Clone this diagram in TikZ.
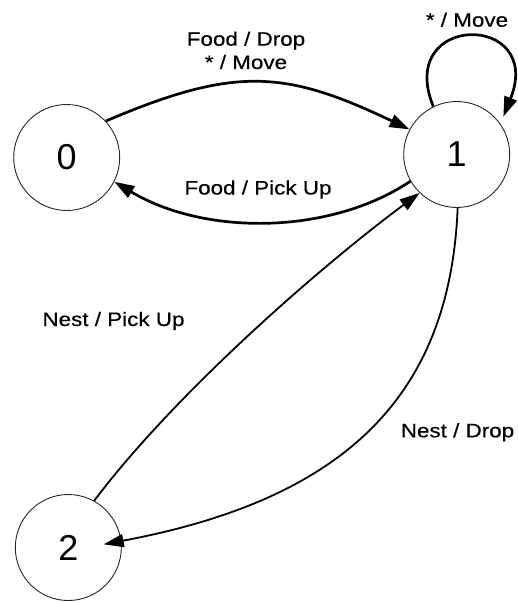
\documentclass[tikz,border=0pt]{standalone}
\usepackage{fontspec}
\setmainfont{Liberation Sans}
\newfontfamily\lblfont[FakeStretch=1.15,FakeBold=0.4]{Liberation Sans}
\usetikzlibrary{arrows.meta}
\tikzset{
  state/.style={circle, draw=black!85, line width=0.9pt, minimum size=106pt,
    inner sep=0pt, font=\fontsize{36}{36}\selectfont},
  lbl/.style={anchor=base, inner sep=0pt, font=\lblfont\fontsize{19.5}{23}\selectfont},
  tip/.style={-{Triangle[length=20pt,width=13pt]}},
  heavy/.style={tip, line width=2.7pt},
  light/.style={tip, line width=1.8pt},
}
\begin{document}
\begin{tikzpicture}[x=1pt,y=-1pt]
\useasboundingbox (0,0) rectangle (517,602);

% states
\node[state] (n0) at (66.7,157.5) {0};
\node[state] (n1) at (456.7,154.5) {1};
\node[state] (n2) at (68.3,547.5) {2};

% transitions between 0 and 1
\draw[heavy] (n0.43) .. controls (235,66) and (285,70) .. (n1.152);
\draw[heavy] (n1.210) .. controls (330,235) and (205,236) .. (n0.-27);

% self loop on 1
\draw[heavy, shorten >=7.7pt] (n1.116) .. controls (395,12) and (545,12) .. (n1.35);

% transitions between 1 and 2
\draw[light] (n2.61) .. controls (173,396) and (316,270) .. (n1.226);
\draw[light, shorten >=-18pt] (n1.-89) .. controls (450,400) and (340,500) .. (n2.7);

% transition labels
\node[lbl] (t01a) at (246,45.7) {Food / Drop};
\node[lbl] (t01b) at (246,69) {* / Move};
\node[lbl] (t11) at (467,26.7) {* / Move};
\node[lbl] (t10) at (258,194.5) {Food / Pick Up};
\node[lbl] (t21) at (113.5,326) {Nest / Pick Up};
\node[lbl] (t12) at (457.5,437.3) {Nest / Drop};
\end{tikzpicture}
\end{document}
